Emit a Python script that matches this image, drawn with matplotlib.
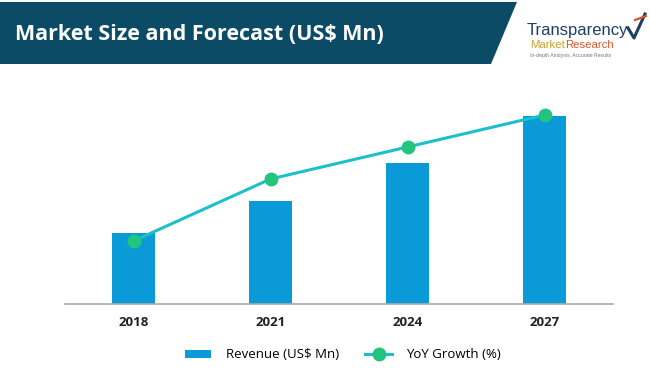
import matplotlib
matplotlib.use("Agg")
import matplotlib.pyplot as plt
from matplotlib.patches import Polygon, Rectangle
from matplotlib.lines import Line2D

years = ["2018", "2021", "2024", "2027"]
revenue = [71, 103, 141, 188]
yoy_growth = [63, 125, 157, 189]

BAR = "#0a9ad8"
LINE = "#1cc0cc"
MARK = "#22c47e"
BANNER = "#0c4b66"

fig = plt.figure(figsize=(6.5, 3.69), dpi=100)
W, H = 650, 369

def fx(px):
    return px / W

def fy(py):
    return 1 - py / H

# Banner
banner = Polygon([(0, fy(2)), (fx(517), fy(2)), (fx(491), fy(64)), (0, fy(64))],
                 closed=True, transform=fig.transFigure, facecolor=BANNER, edgecolor="none")
fig.patches.append(banner)
fig.text(fx(15), fy(34), "Market Size and Forecast (US$ Mn)", color="white",
         fontsize=15.5, fontweight="bold", family="Open Sans", va="center", ha="left")

# Logo
fig.text(fx(527), fy(31), "Transparency", color="#1c3f66", fontsize=12,
         family="Liberation Sans", va="center", ha="left")
fig.text(fx(530), fy(45), "Market", color="#c9a227", fontsize=8.2, family="Liberation Sans",
         va="center", ha="left")
fig.text(fx(565), fy(45), "Research", color="#d8572a", fontsize=8.2, family="Liberation Sans",
         va="center", ha="left")
fig.text(fx(530), fy(55), "In-depth Analysis. Accurate Results", color="#777777", fontsize=3.7,
         family="Liberation Sans", va="center", ha="left")
fig.lines.append(Line2D([fx(628), fx(634), fx(645)], [fy(28), fy(38), fy(14)],
                        transform=fig.transFigure, color="#1c3f66", lw=2.2))
fig.lines.append(Line2D([fx(635), fx(646)], [fy(20), fy(16)],
                        transform=fig.transFigure, color="#d8572a", lw=1.6))

# Chart axes
ax = fig.add_axes([fx(65), fy(304), fx(613) - fx(65), (304 - 84) / H])
x = list(range(len(years)))
ax.bar(x, revenue, width=0.315, color=BAR, zorder=2)
ax.set_xlim(-0.5, 3.5)
ax.set_ylim(0, 220)
ax2 = ax.twinx()
ax2.set_ylim(0, 220)
ax2.plot(x, yoy_growth, color=LINE, lw=2.2, marker="o", markersize=9,
         markerfacecolor=MARK, markeredgecolor=MARK, zorder=3)

for a in (ax, ax2):
    for s in ("top", "right", "left"):
        a.spines[s].set_visible(False)
    a.set_yticks([])
ax2.spines["bottom"].set_visible(False)
ax.spines["bottom"].set_color("#aaaaaa")
ax.spines["bottom"].set_linewidth(1.2)
ax.set_xticks(x)
ax.set_xticklabels(years, fontsize=9.5, fontweight="bold", color="#222222", family="Open Sans")
ax.tick_params(axis="x", length=0, pad=9)

# Legend
bar_handle = Rectangle((0, 0), 1, 1, facecolor=BAR, edgecolor="none")
line_handle = Line2D([], [], color=LINE, lw=2.2, marker="o", markersize=9,
                     markerfacecolor=MARK, markeredgecolor=MARK)
fig.legend([bar_handle, line_handle], ["Revenue (US$ Mn)", "YoY Growth (%)"],
           loc="center", bbox_to_anchor=(fx(343), fy(355)), ncol=2, frameon=False,
           prop={"family": "Open Sans", "size": 9.5}, handlelength=2.0, handleheight=0.5,
           columnspacing=2.0, handletextpad=1.1)

fig.savefig("out.png", dpi=100, facecolor="white")
